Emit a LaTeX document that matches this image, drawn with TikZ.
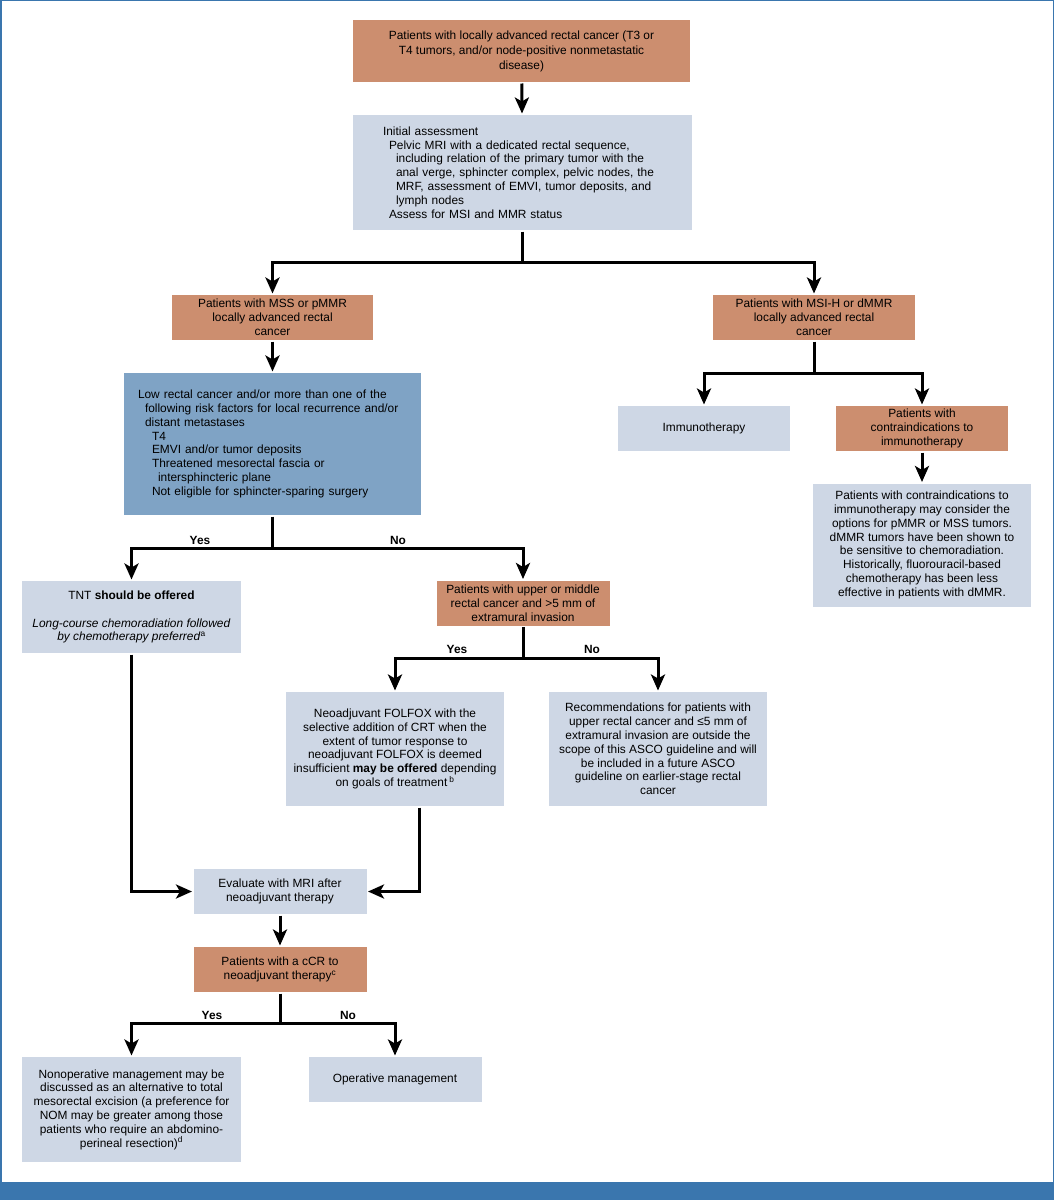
\documentclass[tikz,border=0pt]{standalone}
\usepackage{fontspec}
\setmainfont{Liberation Sans}
\usetikzlibrary{%
  arrows.meta,%
  positioning,%
  calc%
}
\definecolor{boxorange}{HTML}{CC8E6F}
\definecolor{boxlight}{HTML}{CED7E5}
\definecolor{boxdark}{HTML}{7FA3C5}
\definecolor{framblue}{HTML}{3A76AE}

\begin{document}
\begin{tikzpicture}
[x=1pt, y=-1pt, line width=3pt, >={Stealth[length=16pt,width=14pt,inset=4pt]},
font=\fontsize{11.9}{13.8}\selectfont,
pbox/.style={rectangle, fill=boxorange, inner sep=2pt, align=center},
lbox/.style={rectangle, fill=boxlight, inner sep=2pt, align=center},
dbox/.style={rectangle, fill=boxdark, inner sep=2pt},
yn/.style={font=\fontsize{11.9}{13.8}\selectfont\bfseries, inner sep=0pt}]

% frame
\fill[framblue] (0,0) rectangle (1054,1200);
\fill[white] (2,1) rectangle (1053,1182);
\useasboundingbox (0,0) rectangle (1054,1200);

% boxes
\node[pbox, minimum width=337pt, minimum height=62pt, font=\fontsize{11.9}{15}\selectfont] (top) at (521.5,51)
  {Patients with locally advanced rectal cancer (T3 or\\T4 tumors, and/or node-positive nonmetastatic\\disease)};
\node[lbox, minimum height=115pt, inner xsep=30pt, text width=279pt, align=left] (init) at (522.5,172.5)
  {Initial assessment\\
   \hspace*{6pt}Pelvic MRI with a dedicated rectal sequence,\\
   \hspace*{13pt}including relation of the primary tumor with the\\
   \hspace*{13pt}anal verge, sphincter complex, pelvic nodes, the\\
   \hspace*{13pt}MRF, assessment of EMVI, tumor deposits, and\\
   \hspace*{13pt}lymph nodes\\
   \hspace*{6pt}Assess for MSI and MMR status};

\node[pbox, minimum width=201pt, minimum height=45pt] (mss) at (272.5,317.5)
  {Patients with MSS or pMMR\\locally advanced rectal\\cancer};
\node[pbox, minimum width=202pt, minimum height=45pt] (msi) at (814,317.5)
  {Patients with MSI-H or dMMR\\locally advanced rectal\\cancer};

\node[dbox, minimum height=142pt, inner xsep=14pt, text width=269pt, align=left] (low) at (272.5,444)
  {Low rectal cancer and/or more than one of the\\
   \hspace*{7pt}following risk factors for local recurrence and/or\\
   \hspace*{7pt}distant metastases\\
   \hspace*{14pt}T4\\
   \hspace*{14pt}EMVI and/or tumor deposits\\
   \hspace*{14pt}Threatened mesorectal fascia or\\
   \hspace*{20pt}intersphincteric plane\\
   \hspace*{14pt}Not eligible for sphincter-sparing surgery};

\node[lbox, minimum width=172pt, minimum height=45pt] (immuno) at (704,428.5) {Immunotherapy};
\node[pbox, minimum width=172pt, minimum height=45pt] (contra) at (922,428.5)
  {Patients with\\contraindications to\\immunotherapy};
\node[lbox, minimum width=218pt, minimum height=123pt] (contratext) at (922,545)
  {Patients with contraindications to\\immunotherapy may consider the\\options for pMMR or MSS tumors.\\dMMR tumors have been shown to\\be sensitive to chemoradiation.\\Historically, fluorouracil-based\\chemotherapy has been less\\effective in patients with dMMR.};

\node[lbox, minimum width=219pt, minimum height=72pt] (tnt) at (131.5,617)
  {TNT \textbf{should be offered}\\[14pt]
   \textit{Long-course chemoradiation followed}\\
   \textit{by chemotherapy preferred}\textsuperscript{a}};
\node[pbox, minimum width=173pt, minimum height=45pt] (upper) at (523,603)
  {Patients with upper or middle\\rectal cancer and >5 mm of\\extramural invasion};

\node[lbox, minimum width=218pt, minimum height=114pt] (neo) at (395,749)
  {Neoadjuvant FOLFOX with the\\selective addition of CRT when the\\extent of tumor response to\\neoadjuvant FOLFOX is deemed\\insufficient \textbf{may be offered} depending\\on goals of treatment\,\textsuperscript{b}};
\node[lbox, minimum width=218pt, minimum height=114pt] (recomm) at (658,749)
  {Recommendations for patients with\\upper rectal cancer and ≤5 mm of\\extramural invasion are outside the\\scope of this ASCO guideline and will\\be included in a future ASCO\\guideline on earlier-stage rectal\\cancer};

\node[lbox, minimum width=173pt, minimum height=45pt] (eval) at (280,891.5)
  {Evaluate with MRI after\\neoadjuvant therapy};
\node[pbox, minimum width=173pt, minimum height=45pt] (ccr) at (280,969.5)
  {Patients with a cCR to\\neoadjuvant therapy\textsuperscript{c}};

\node[lbox, minimum width=219pt, minimum height=105pt] (nom) at (131.5,1109.5)
  {Nonoperative management may be\\discussed as an alternative to total\\mesorectal excision (a preference for\\NOM may be greater among those\\patients who require an abdomino-\\perineal resection)\textsuperscript{d}};
\node[lbox, minimum width=173pt, minimum height=45pt] (oper) at (395,1079.5) {Operative management};

% split points
\coordinate (j1) at (522.5,262);
\coordinate (j2) at (814,373);
\coordinate (j3) at (272.5,548);
\coordinate (j4) at (523,658);
\coordinate (j5) at (280,1023);

% connectors
\draw[->] (top) -- (init);
\draw (init.south) -- (j1);
\draw[->] (j1) -| (mss.north);
\draw[->] (j1) -| (msi.north);
\draw[->] (mss) -- (low);
\draw (msi.south) -- (j2);
\draw[->] (j2) -| (immuno.north);
\draw[->] (j2) -| (contra.north);
\draw[->] (contra) -- (contratext);
\draw (low.south) -- (j3);
\draw[->] (j3) -| (tnt.north);
\draw[->] (j3) -| (upper.north);
\draw (upper.south) -- (j4);
\draw[->] (j4) -| (neo.north);
\draw[->] (j4) -| (recomm.north);
\draw[->] (tnt.south) |- (eval.west);
\draw[->] ([xshift=24pt]neo.south) |- (eval.east);
\draw[->] (eval) -- (ccr);
\draw (ccr.south) -- (j5);
\draw[->] (j5) -| (nom.north);
\draw[->] (j5) -| (oper.north);

% labels
\node[yn] (yes1) at (200,540) {Yes};
\node[yn] (no1) at (398,540) {No};
\node[yn] (yes2) at (457,649) {Yes};
\node[yn] (no2) at (592,649) {No};
\node[yn] (yes3) at (212,1015) {Yes};
\node[yn] (no3) at (348,1015) {No};
\end{tikzpicture}
\end{document}
